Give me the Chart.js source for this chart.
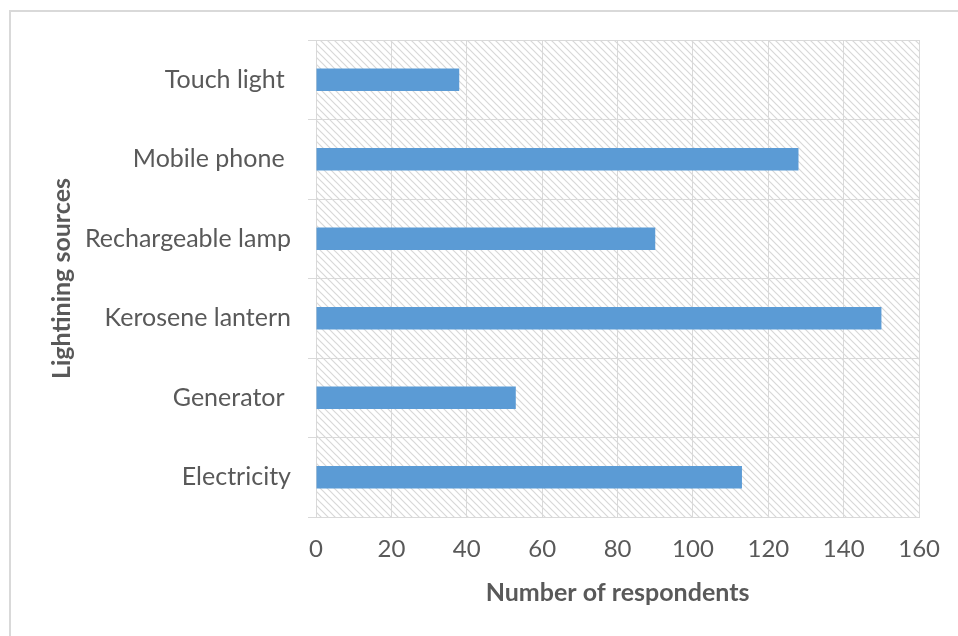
<!DOCTYPE html>
<html>
<head>
<meta charset="utf-8">
<script src="https://cdn.jsdelivr.net/npm/chart.js@4"></script>
<style>
  html, body { margin: 0; padding: 0; background: #ffffff; }
  #wrap { position: relative; width: 958px; height: 636px; }
</style>
</head>
<body>
<div id="wrap"><canvas id="chart" width="958" height="636"></canvas></div>
<script>
// Lighting sources used by respondents
const sources = ['Electricity', 'Generator ', 'Kerosene lantern', 'Rechargeable lamp', 'Mobile phone ', 'Touch light '];
const respondents = [113, 53, 150, 90, 128, 38];
const xTicks = [0, 20, 40, 60, 80, 100, 120, 140, 160];

const FONT = 'Lato, "Open Sans", sans-serif';
const TEXT = '#595959';
const GRID = '#d9d9d9';

// diagonal hatch fill behind the plot area
function makeHatch() {
  const size = 7;
  const c = document.createElement('canvas');
  c.width = size; c.height = size;
  const g = c.getContext('2d');
  g.strokeStyle = '#d8d8d8';
  g.lineWidth = 1.2;
  g.beginPath();
  g.moveTo(-1, -1); g.lineTo(size + 1, size + 1);
  g.moveTo(-1, size - 1); g.lineTo(1, size + 1);
  g.moveTo(size - 1, -1); g.lineTo(size + 1, 1);
  g.stroke();
  return c;
}

const backdrop = {
  id: 'backdrop',
  beforeDraw(chart) {
    const { ctx, chartArea: a } = chart;
    ctx.save();
    // outer frame
    ctx.strokeStyle = GRID;
    ctx.lineWidth = 2;
    ctx.beginPath();
    ctx.moveTo(10, 636); ctx.lineTo(10, 11); ctx.lineTo(958, 11);
    ctx.stroke();
    // hatched plot area
    ctx.fillStyle = ctx.createPattern(makeHatch(), 'repeat');
    ctx.fillRect(a.left, a.top, a.right - a.left, a.bottom - a.top);
    ctx.restore();
  }
};

new Chart(document.getElementById('chart'), {
  type: 'bar',
  data: {
    labels: sources,
    datasets: [{
      data: respondents,
      backgroundColor: '#5b9bd5',
      borderWidth: 0,
      categoryPercentage: 1,
      barPercentage: 0.28
    }]
  },
  options: {
    indexAxis: 'y',
    responsive: false,
    animation: false,
    events: [],
    layout: { padding: { left: 0, top: 40, right: 37, bottom: 0 } },
    plugins: { legend: { display: false }, tooltip: { enabled: false } },
    scales: {
      x: {
        min: 0, max: 160,
        afterBuildTicks(scale) { scale.ticks = xTicks.map(v => ({ value: v })); },
        afterFit(scale) { scale.height = 119; },
        grid: { color: GRID, lineWidth: 1, drawTicks: false },
        border: { color: GRID, width: 1 },
        ticks: { color: TEXT, font: { family: FONT, size: 24 }, padding: 18, maxRotation: 0 },
        title: {
          display: true, text: 'Number of respondents', color: TEXT,
          font: { family: FONT, size: 25, weight: 'bold' },
          padding: { top: 0, bottom: 28 }
        }
      },
      y: {
        reverse: true,
        afterFit(scale) { scale.width = 316; },
        grid: { color: GRID, lineWidth: 1, offset: true, drawTicks: true, tickLength: 8 },
        border: { color: GRID, width: 1 },
        ticks: { color: TEXT, font: { family: FONT, size: 25 }, padding: 17 },
        title: {
          display: true, text: 'Lightining sources', color: TEXT,
          font: { family: FONT, size: 25, weight: 'bold' },
          padding: { top: 47, bottom: 0 }
        }
      }
    }
  },
  plugins: [backdrop]
});
</script>
</body>
</html>
